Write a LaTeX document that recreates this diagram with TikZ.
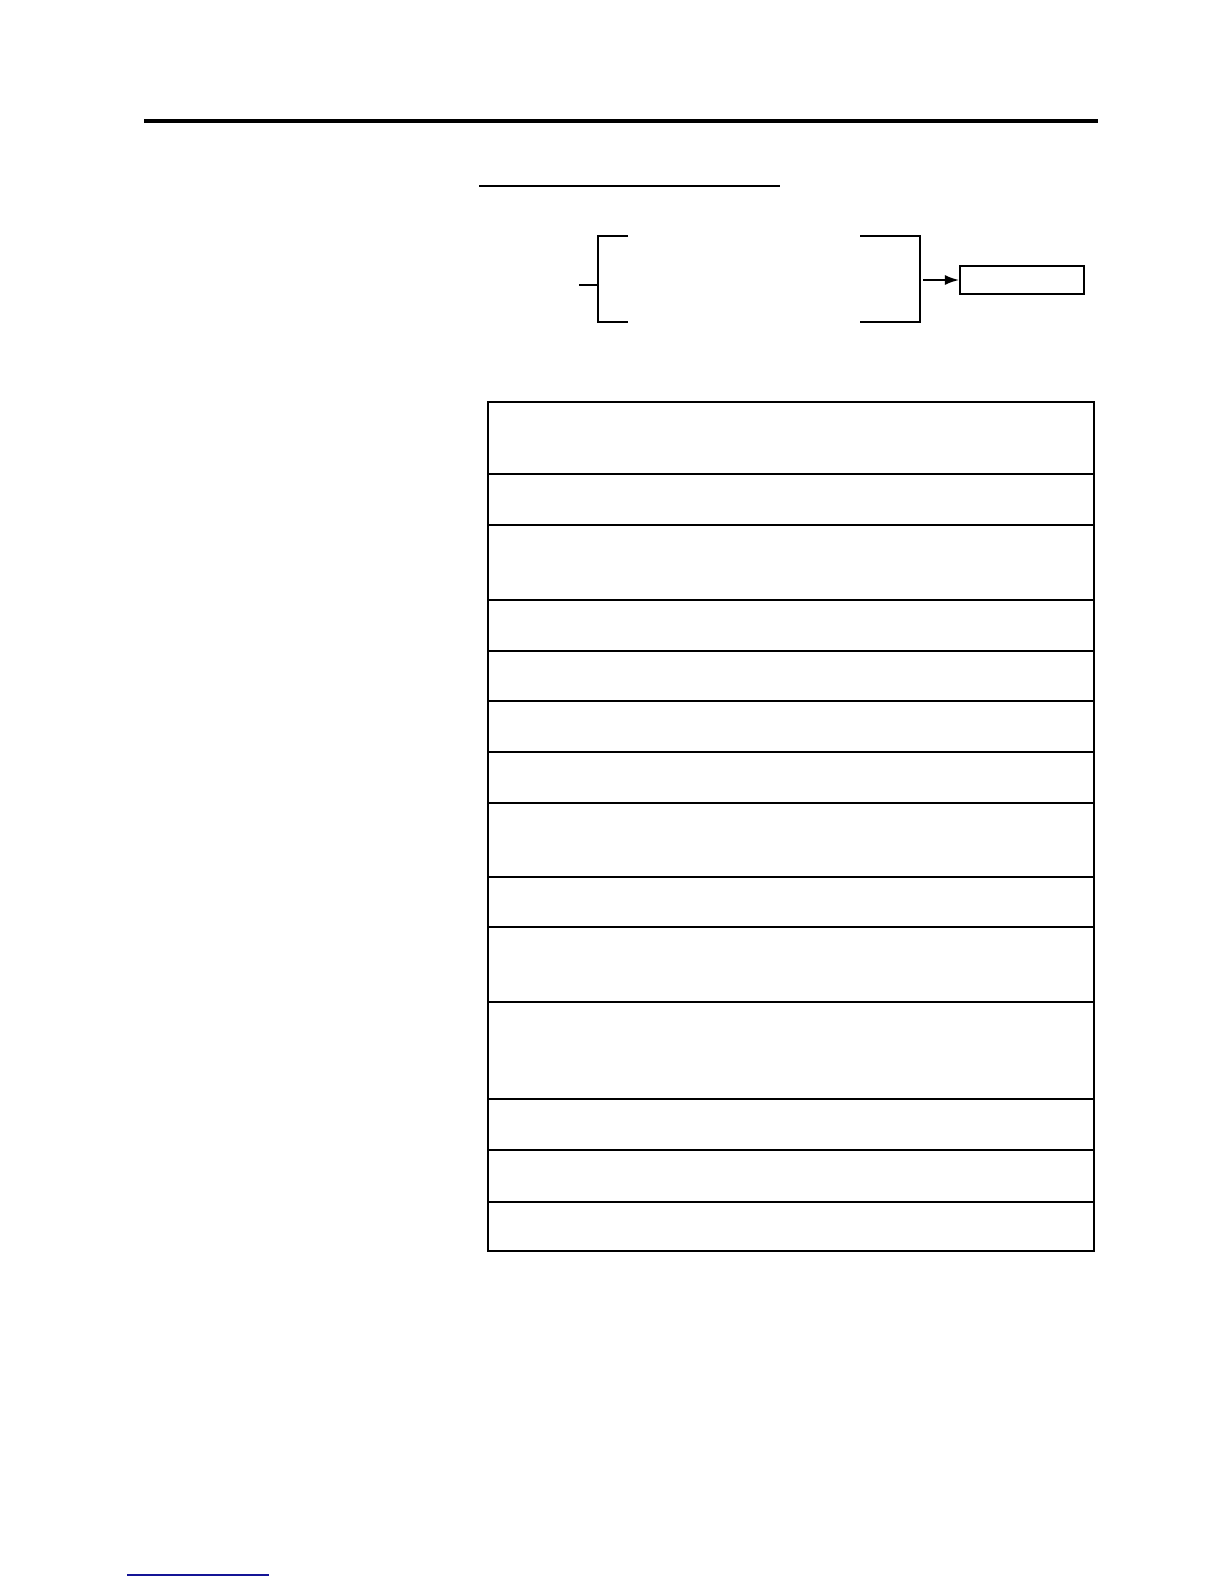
\documentclass[tikz,border=0pt]{standalone}
\usetikzlibrary{arrows.meta}
\definecolor{linkblue}{RGB}{20,20,150}
\tikzset{
  rowbox/.style={draw, line width=1pt, inner sep=0pt, minimum width=303pt},
  brk/.style={line width=1.1pt},
  outbox/.style={draw, line width=1.1pt, inner sep=0pt, minimum width=62pt, minimum height=14pt}
}
\begin{document}
\begin{tikzpicture}[x=0.5pt,y=-0.5pt]
\useasboundingbox[fill=white] (0,0) rectangle (1224,1584);
% top rule and title underline
\coordinate (tr1) at (144,121);
\coordinate (tr2) at (1098,121);
\draw[line width=2.2pt] (tr1) -- (tr2);
\coordinate (ul1) at (479,186);
\coordinate (ul2) at (780,186);
\draw[line width=1.4pt] (ul1) -- (ul2);
% left bracket
\coordinate (lbt) at (628,236);
\coordinate (lbb) at (628,322);
\coordinate (stub) at (579,285);
\draw[brk] (lbt) -- (598,236) -- (598,322) -- (lbb);
\draw[brk] (stub) -- (597,285);
% right bracket
\coordinate (rbt) at (860,236);
\coordinate (rbb) at (860,322);
\draw[brk] (rbt) -- (920,236) -- (920,322) -- (rbb);
% output box and arrow
\node[outbox] (out) at (1022,280) {};
\coordinate (rb) at (923,280);
\draw[line width=0.8pt, -{Latex[length=7pt,width=5pt]}] (rb) -- (out.west);
% table rows
\foreach \t/\b [count=\i] in {402/474, 474/525, 525/600, 600/650.5, 650.5/701, 701/751.5, 751.5/803, 803/876.6, 876.6/927, 927/1002, 1002/1099, 1099/1149.5, 1149.5/1202, 1202/1251}
  \node[rowbox, minimum height={(\b-\t)*0.5pt}] (r\i) at (791,{(\t+\b)/2}) {};
% bottom link underline
\coordinate (bl1) at (127,1575);
\coordinate (bl2) at (269,1575);
\draw[linkblue, line width=0.8pt] (bl1) -- (bl2);
\end{tikzpicture}
\end{document}
